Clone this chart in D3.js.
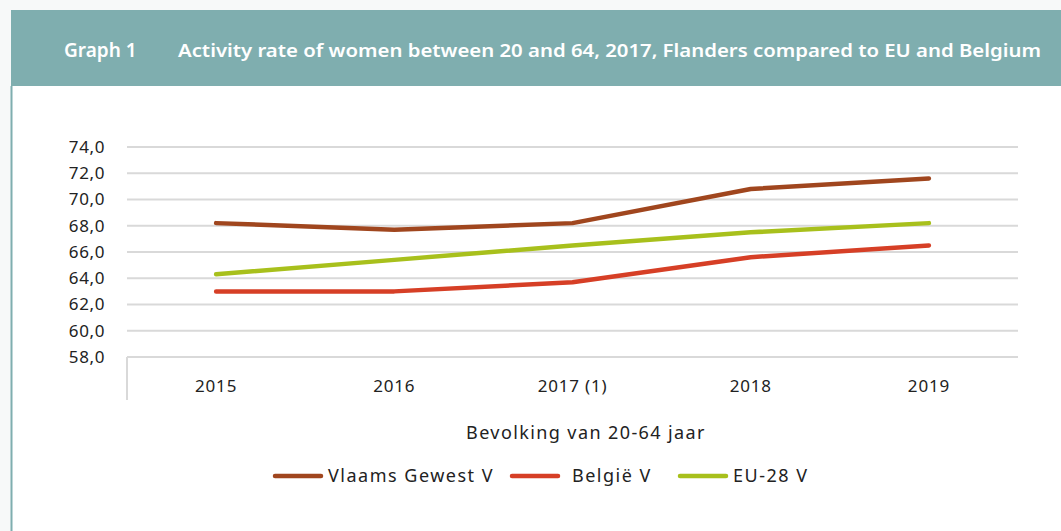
<!DOCTYPE html>
<html>
<head>
<meta charset="utf-8">
<script src="https://cdn.jsdelivr.net/npm/d3@7"></script>
<style>
  body { margin: 0; background: #f7f9f9; font-family: "Noto Sans", sans-serif; }
  svg { display: block; }
  text { font-family: "Noto Sans", sans-serif; }
</style>
</head>
<body>
<svg id="chart" width="1061" height="531"></svg>
<script>
var years = ['2015', '2016', '2017 (1)', '2018', '2019']
var vlaams = [68.2, 67.7, 68.2, 70.8, 71.6]
var belgie = [63.0, 63.0, 63.7, 65.6, 66.5]
var eu28 = [64.3, 65.4, 66.5, 67.5, 68.2]
var yTicks = [58, 60, 62, 64, 66, 68, 70, 72, 74]

var series = [
  {name: 'Vlaams Gewest V', values: vlaams, color: '#a0461e'},
  {name: 'België V', values: belgie, color: '#d63f26'},
  {name: 'EU-28 V', values: eu28, color: '#a8c01c'}
]

var svg = d3.select('#chart')
var width = 1061, height = 531
var margin = {top: 147, left: 127, right: 43, bottom: 174}
var ink = '#222'

// card + title band
svg.append('rect').attr('x', 11).attr('y', 10).attr('width', width - 11).attr('height', height - 10).attr('fill', '#fff')
svg.append('rect').attr('x', 11).attr('y', 10).attr('width', width - 11).attr('height', 76).attr('fill', '#7faeaf')
svg.append('line').attr('x1', 11.5).attr('x2', 11.5).attr('y1', 86).attr('y2', height)
  .attr('stroke', '#7faeaf').attr('stroke-width', 2)

svg.append('text').attr('x', 64).attr('y', 57).attr('fill', '#fff')
  .style('font-size', '19px').style('font-weight', 600).text('Graph 1')
svg.append('text').attr('x', 178).attr('y', 57).attr('fill', '#fff')
  .style('font-size', '18px').style('font-weight', 600)
  .attr('textLength', 863).attr('lengthAdjust', 'spacingAndGlyphs')
  .text('Activity rate of women between 20 and 64, 2017, Flanders compared to EU and Belgium')

var x = d3.scaleBand().domain(years).range([margin.left, width - margin.right])
var y = d3.scaleLinear().domain([58, 74]).range([height - margin.bottom, margin.top])

var g = svg.append('g')

// gridlines
g.selectAll('.grid').data(yTicks.slice(1)).enter().append('line')
  .attr('x1', margin.left).attr('x2', width - margin.right)
  .attr('y1', function(d) { return y(d) }).attr('y2', function(d) { return y(d) })
  .attr('stroke', '#d9d9d9').attr('stroke-width', 2)

// y labels
var yAxis = d3.axisLeft(y).tickValues(yTicks).tickSize(0).tickPadding(0)
  .tickFormat(function(d) { return d3.format('.1f')(d).replace('.', ',') })
var ya = g.append('g').attr('transform', 'translate(105,0)').call(yAxis)
ya.attr('font-family', null).attr('font-size', null)
ya.select('.domain').remove()
ya.selectAll('text').style('font-size', '17px').style('letter-spacing', '0.6px').attr('fill', ink)

// x axis
var xa = g.append('g').attr('transform', 'translate(0,' + y(58) + ')')
  .call(d3.axisBottom(x).tickSize(0).tickPadding(23))
xa.attr('font-family', null).attr('font-size', null)
xa.select('.domain').attr('stroke', '#d9d9d9').attr('stroke-width', 2)
  .attr('d', 'M' + margin.left + ',0H' + (width - margin.right))
xa.selectAll('text').style('font-size', '17px').style('letter-spacing', '0.8px').attr('fill', ink)
g.append('line').attr('x1', margin.left).attr('x2', margin.left)
  .attr('y1', y(58)).attr('y2', y(58) + 43).attr('stroke', '#d9d9d9').attr('stroke-width', 2)

svg.append('text').attr('x', 586).attr('y', 439).attr('text-anchor', 'middle')
  .style('font-size', '18px').style('letter-spacing', '1.4px').attr('fill', ink).text('Bevolking van 20-64 jaar')

// lines
var line = d3.line()
  .x(function(d, i) { return x(years[i]) + x.bandwidth() / 2 })
  .y(function(d) { return y(d) })

g.selectAll('.series').data(series).enter().append('path')
  .attr('d', function(d) { return line(d.values) })
  .attr('fill', 'none').attr('stroke', function(d) { return d.color })
  .attr('stroke-width', 4.5).attr('stroke-linecap', 'round').attr('stroke-linejoin', 'round')

// legend
var legendX = [275, 512, 680]
var legendTextX = [328, 572, 733]
var lg = svg.append('g').selectAll('g').data(series).enter().append('g')
lg.append('line')
  .attr('x1', function(d, i) { return legendX[i] }).attr('x2', function(d, i) { return legendX[i] + 46 })
  .attr('y1', 476).attr('y2', 476)
  .attr('stroke', function(d) { return d.color }).attr('stroke-width', 4.5).attr('stroke-linecap', 'round')
lg.append('text').attr('x', function(d, i) { return legendTextX[i] }).attr('y', 482)
  .style('font-size', '18px').style('letter-spacing', '1.5px').attr('fill', ink).text(function(d) { return d.name })
</script>
</body>
</html>
